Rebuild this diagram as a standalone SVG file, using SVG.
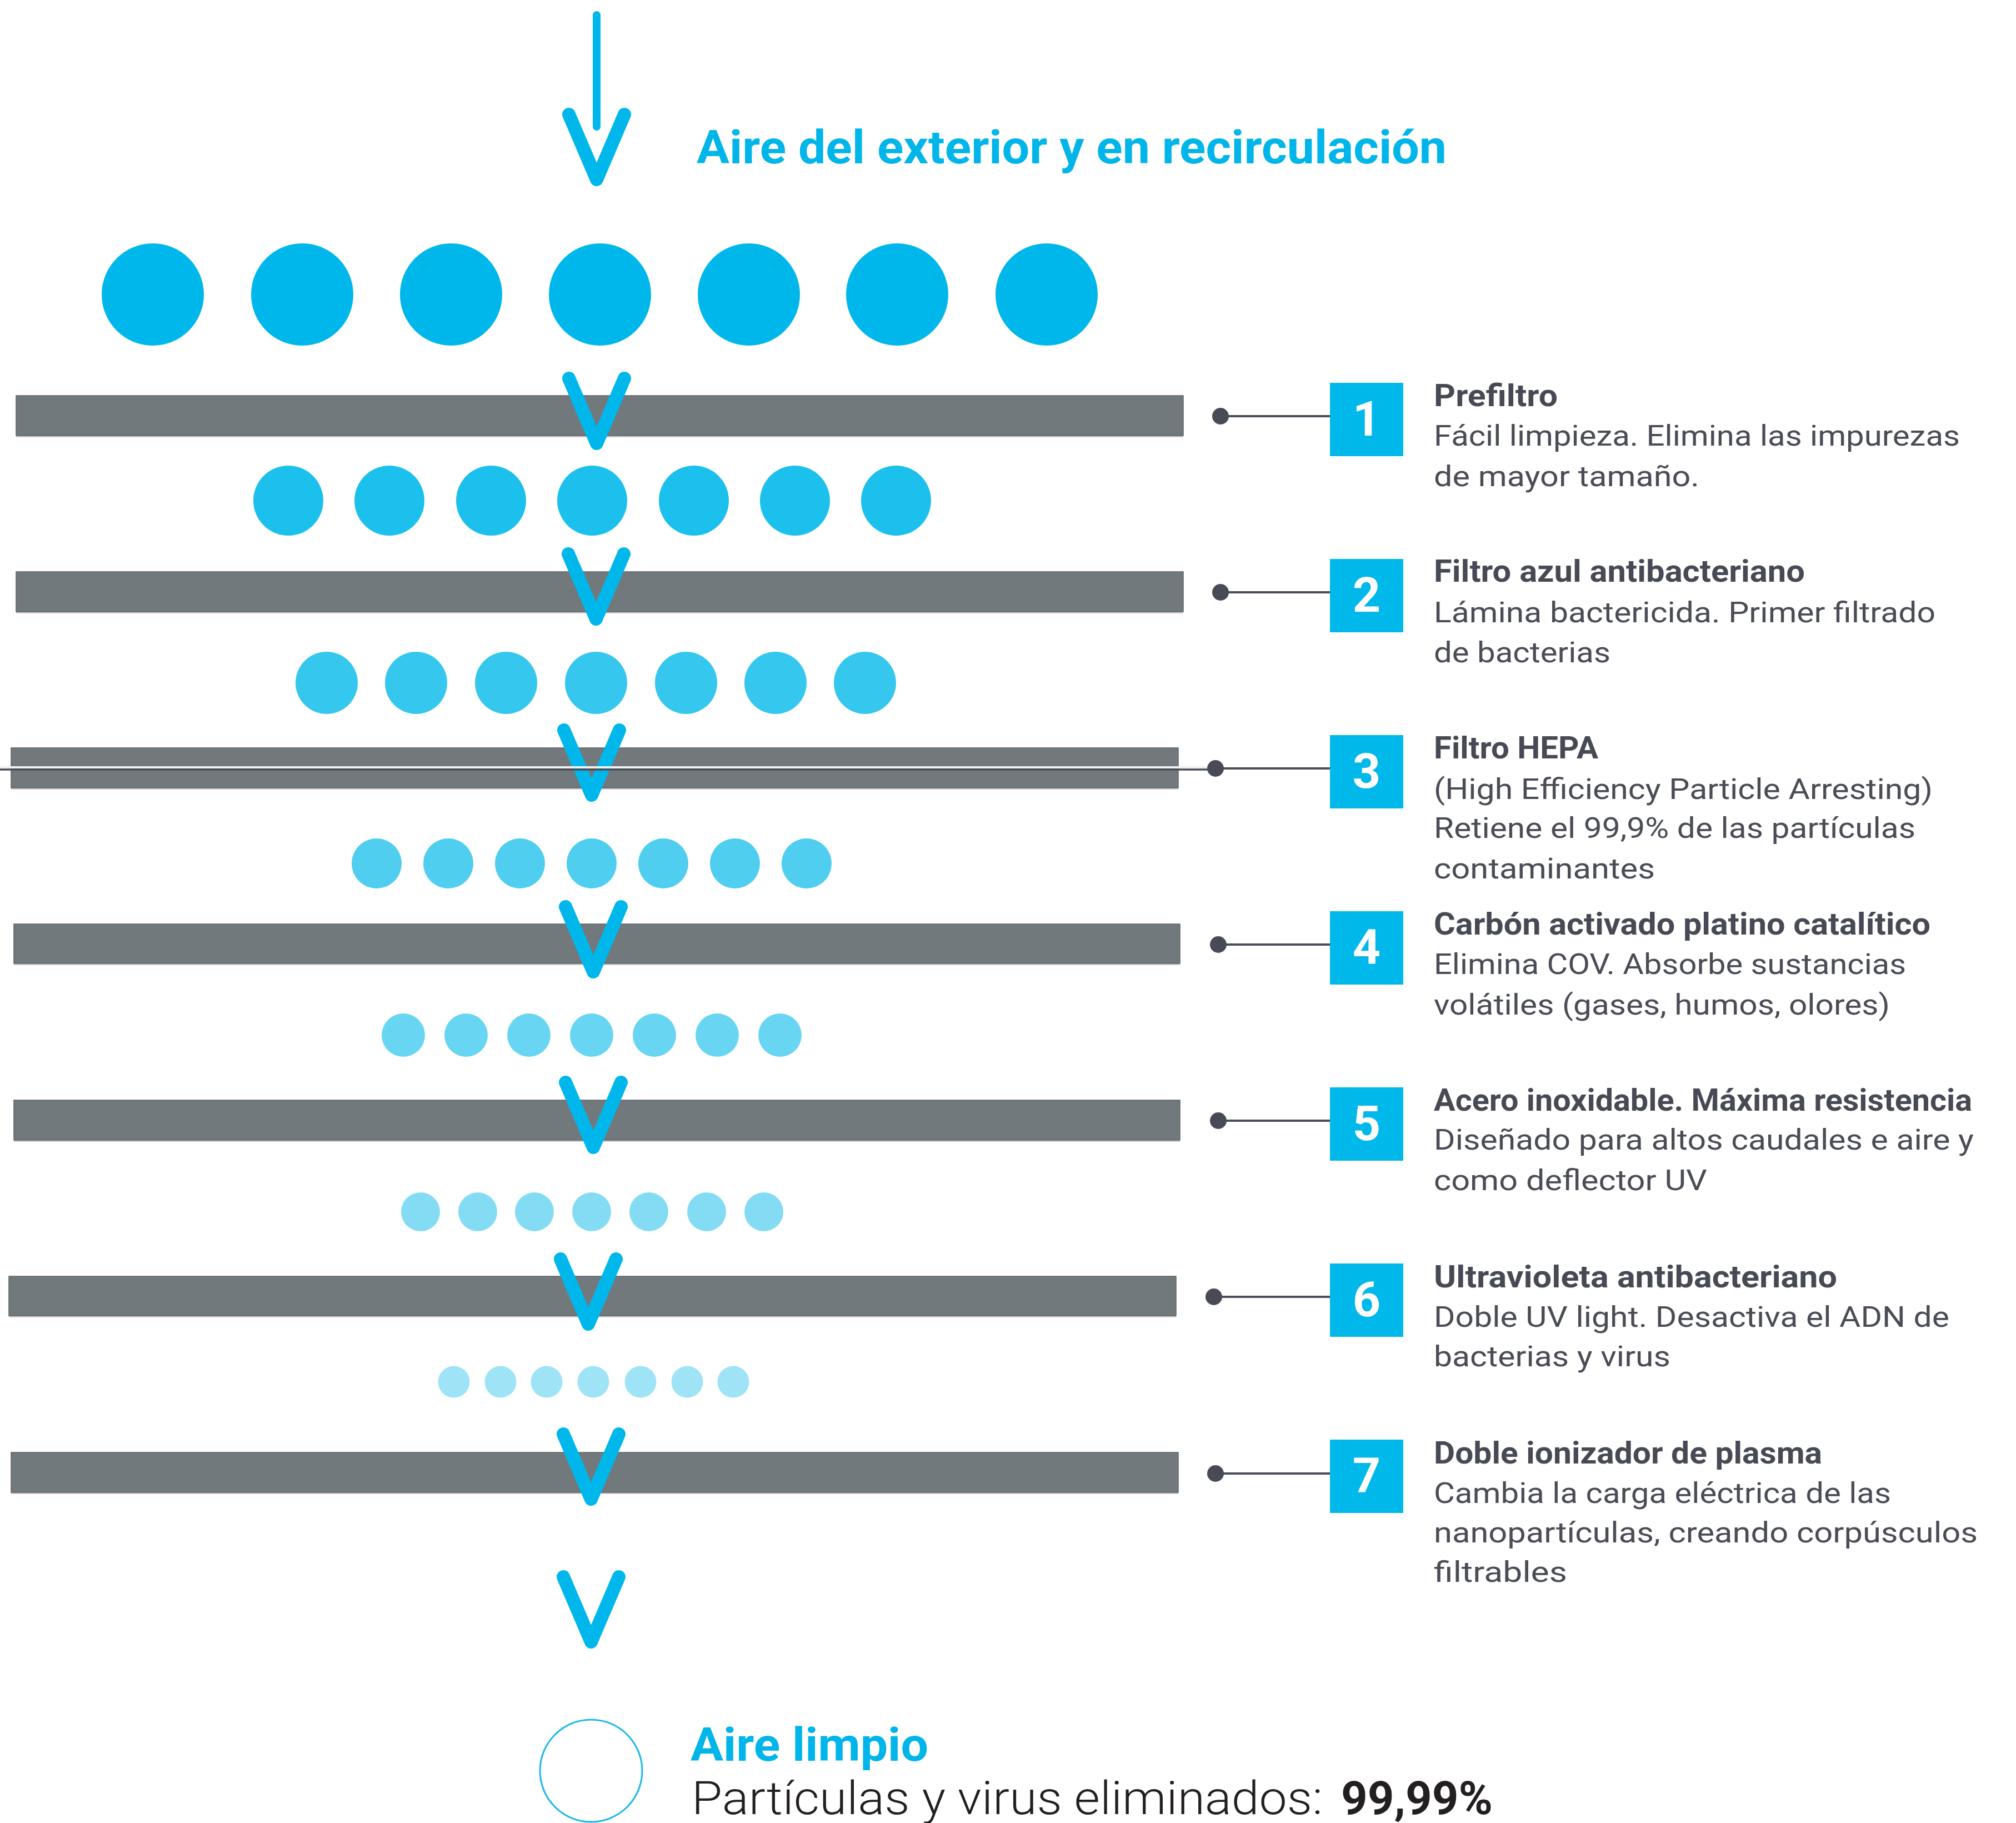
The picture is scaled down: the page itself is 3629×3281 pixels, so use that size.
<svg xmlns="http://www.w3.org/2000/svg" xmlns:xlink="http://www.w3.org/1999/xlink" width="3629" height="3281" viewBox="0 0 3629 3281">
<style>
.bar{fill:#72797c;stroke:#5e6467;stroke-width:1.5}
.barhl{fill:#c8cbce}
.chev{fill:none;stroke:#00b7eb;stroke-width:24;stroke-linecap:round;stroke-linejoin:round}
.r1{fill:#00b7eb}.r2{fill:#1bc0ec}.r3{fill:#35c7ee}.r4{fill:#4fcef0}.r5{fill:#68d5f2}.r6{fill:#83dcf4}.r7{fill:#9ee4f6}
.box{fill:#00b8ea}
.num{font-family:Roboto,'Liberation Sans',sans-serif;font-weight:700;font-size:88px;fill:#ffffff;text-anchor:middle}
.hd{font-family:Roboto,'Liberation Sans',sans-serif;font-weight:700;font-size:55px;fill:#474a54}
.tx{font-family:Roboto,'Liberation Sans',sans-serif;font-weight:400;font-size:52px;fill:#4a4c56}
.dot{fill:#484b55}
.conn{stroke:#4a4d57;stroke-width:4;fill:none}
.title{font-family:Roboto,'Liberation Sans',sans-serif;font-weight:700;font-size:84px;fill:#00b5e9}
.big{font-family:Roboto,'Liberation Sans',sans-serif;font-size:84px;fill:#231f20}
</style>
<defs>
<path id="v" d="M-50,0 L0,117 L50,0"/>
</defs>
<rect width="3629" height="3281" fill="#ffffff"/>

<g id="inflow">
<line x1="1074" y1="27" x2="1074" y2="228" stroke="#00b7eb" stroke-width="14" stroke-linecap="round"/>
<use xlink:href="#v" href="#v" class="chev" x="1074" y="206"/>
<text class="title" x="1254" y="294" textLength="1350" lengthAdjust="spacingAndGlyphs">Aire del exterior y en recirculación</text>
</g>

<g id="particles">
<g class="r1"><circle cx="275" cy="530" r="92"/><circle cx="544" cy="530" r="92"/><circle cx="812" cy="530" r="92"/><circle cx="1080" cy="530" r="92"/><circle cx="1348" cy="530" r="92"/><circle cx="1615" cy="530" r="92"/><circle cx="1884" cy="530" r="92"/></g>
<g class="r2"><circle cx="519" cy="901" r="63"/><circle cx="701" cy="901" r="63"/><circle cx="884" cy="901" r="63"/><circle cx="1066" cy="901" r="63"/><circle cx="1249" cy="901" r="63"/><circle cx="1431" cy="901" r="63"/><circle cx="1613" cy="901" r="63"/></g>
<g class="r3"><circle cx="588" cy="1229" r="56"/><circle cx="749" cy="1229" r="56"/><circle cx="911" cy="1229" r="56"/><circle cx="1073" cy="1229" r="56"/><circle cx="1235" cy="1229" r="56"/><circle cx="1396" cy="1229" r="56"/><circle cx="1557" cy="1229" r="56"/></g>
<g class="r4"><circle cx="678" cy="1554" r="45"/><circle cx="807" cy="1554" r="45"/><circle cx="936" cy="1554" r="45"/><circle cx="1065" cy="1554" r="45"/><circle cx="1194" cy="1554" r="45"/><circle cx="1323" cy="1554" r="45"/><circle cx="1452" cy="1554" r="45"/></g>
<g class="r5"><circle cx="726" cy="1863" r="39"/><circle cx="839" cy="1863" r="39"/><circle cx="952" cy="1863" r="39"/><circle cx="1065" cy="1863" r="39"/><circle cx="1178" cy="1863" r="39"/><circle cx="1291" cy="1863" r="39"/><circle cx="1404" cy="1863" r="39"/></g>
<g class="r6"><circle cx="757" cy="2181" r="35"/><circle cx="860" cy="2181" r="35"/><circle cx="962" cy="2181" r="35"/><circle cx="1065" cy="2181" r="35"/><circle cx="1168" cy="2181" r="35"/><circle cx="1272" cy="2181" r="35"/><circle cx="1375" cy="2181" r="35"/></g>
<g class="r7"><circle cx="817" cy="2487" r="28.5"/><circle cx="901" cy="2487" r="28.5"/><circle cx="984" cy="2487" r="28.5"/><circle cx="1068" cy="2487" r="28.5"/><circle cx="1153" cy="2487" r="28.5"/><circle cx="1237" cy="2487" r="28.5"/><circle cx="1320" cy="2487" r="28.5"/></g>
</g>

<g id="filter1">
<rect class="barhl" x="29" y="784" width="2101" height="3"/>
<rect class="bar" x="29" y="712" width="2101" height="72"/>
<use xlink:href="#v" href="#v" class="chev" x="1074" y="681"/>
<rect class="box" x="2394" y="689" width="132" height="132"/>
<text class="num" x="2460" y="784">1</text>
<text class="hd" x="2581" y="731" textLength="223" lengthAdjust="spacingAndGlyphs">Prefiltro</text>
<text class="tx" x="2581" y="802" textLength="947" lengthAdjust="spacingAndGlyphs">Fácil limpieza. Elimina las impurezas</text>
<text class="tx" x="2581" y="875" textLength="478" lengthAdjust="spacingAndGlyphs">de mayor tamaño.</text>
</g>

<g id="filter2">
<rect class="barhl" x="29" y="1101" width="2101" height="3"/>
<rect class="bar" x="29" y="1029" width="2101" height="72"/>
<use xlink:href="#v" href="#v" class="chev" x="1073" y="997"/>
<rect class="box" x="2394" y="1006" width="132" height="132"/>
<text class="num" x="2460" y="1101">2</text>
<text class="hd" x="2581" y="1047" textLength="668" lengthAdjust="spacingAndGlyphs">Filtro azul antibacteriano</text>
<text class="tx" x="2581" y="1120" textLength="903" lengthAdjust="spacingAndGlyphs">Lámina bactericida. Primer filtrado</text>
<text class="tx" x="2581" y="1192" textLength="318" lengthAdjust="spacingAndGlyphs">de bacterias</text>
</g>

<g id="filter3">
<rect class="barhl" x="20" y="1418" width="2101" height="3"/>
<rect class="bar" x="20" y="1346" width="2101" height="72"/>
<use xlink:href="#v" href="#v" class="chev" x="1065" y="1314"/>
<rect class="box" x="2394" y="1323" width="132" height="132"/>
<text class="num" x="2460" y="1418">3</text>
<text class="hd" x="2581" y="1365" textLength="296" lengthAdjust="spacingAndGlyphs">Filtro HEPA</text>
<text class="tx" x="2581" y="1438" textLength="898" lengthAdjust="spacingAndGlyphs">(High Efficiency Particle Arresting)</text>
<text class="tx" x="2581" y="1508" textLength="867" lengthAdjust="spacingAndGlyphs">Retiene el 99,9% de las partículas</text>
<text class="tx" x="2581" y="1581" textLength="398" lengthAdjust="spacingAndGlyphs">contaminantes</text>
</g>

<g id="filter4">
<rect class="barhl" x="25" y="1734" width="2099" height="3"/>
<rect class="bar" x="25" y="1663" width="2099" height="71"/>
<use xlink:href="#v" href="#v" class="chev" x="1068" y="1632"/>
<rect class="box" x="2394" y="1640" width="132" height="132"/>
<text class="num" x="2460" y="1735">4</text>
<text class="hd" x="2581" y="1682" textLength="894" lengthAdjust="spacingAndGlyphs">Carbón activado platino catalítico</text>
<text class="tx" x="2581" y="1753" textLength="850" lengthAdjust="spacingAndGlyphs">Elimina COV. Absorbe sustancias</text>
<text class="tx" x="2581" y="1826" textLength="821" lengthAdjust="spacingAndGlyphs">volátiles (gases, humos, olores)</text>
</g>

<g id="filter5">
<rect class="barhl" x="25" y="2052" width="2099" height="3"/>
<rect class="bar" x="25" y="1980" width="2099" height="72"/>
<use xlink:href="#v" href="#v" class="chev" x="1068" y="1948"/>
<rect class="box" x="2394" y="1957" width="132" height="132"/>
<text class="num" x="2460" y="2052">5</text>
<text class="hd" x="2581" y="1999" textLength="969" lengthAdjust="spacingAndGlyphs">Acero inoxidable. Máxima resistencia</text>
<text class="tx" x="2581" y="2069" textLength="972" lengthAdjust="spacingAndGlyphs">Diseñado para altos caudales e aire y</text>
<text class="tx" x="2581" y="2142" textLength="492" lengthAdjust="spacingAndGlyphs">como deflector UV</text>
</g>

<g id="filter6">
<rect class="barhl" x="16" y="2368" width="2101" height="3"/>
<rect class="bar" x="16" y="2297" width="2101" height="71"/>
<use xlink:href="#v" href="#v" class="chev" x="1059" y="2266"/>
<rect class="box" x="2394" y="2274" width="132" height="132"/>
<text class="num" x="2460" y="2369">6</text>
<text class="hd" x="2581" y="2317" textLength="726" lengthAdjust="spacingAndGlyphs">Ultravioleta antibacteriano</text>
<text class="tx" x="2581" y="2388" textLength="928" lengthAdjust="spacingAndGlyphs">Doble UV light. Desactiva el ADN de</text>
<text class="tx" x="2581" y="2459" textLength="426" lengthAdjust="spacingAndGlyphs">bacterias y virus</text>
</g>

<g id="filter7">
<rect class="barhl" x="20" y="2686" width="2101" height="3"/>
<rect class="bar" x="20" y="2614" width="2101" height="72"/>
<use xlink:href="#v" href="#v" class="chev" x="1064" y="2581"/>
<rect class="box" x="2394" y="2591" width="132" height="132"/>
<text class="num" x="2460" y="2686">7</text>
<text class="hd" x="2581" y="2634" textLength="699" lengthAdjust="spacingAndGlyphs">Doble ionizador de plasma</text>
<text class="tx" x="2581" y="2705" textLength="823" lengthAdjust="spacingAndGlyphs">Cambia la carga eléctrica de las</text>
<text class="tx" x="2581" y="2776" textLength="979" lengthAdjust="spacingAndGlyphs">nanopartículas, creando corpúsculos</text>
<text class="tx" x="2581" y="2847" textLength="240" lengthAdjust="spacingAndGlyphs">filtrables</text>
</g>

<g id="connectors">
<line class="conn" x1="2197" y1="749" x2="2394" y2="749"/>
<line class="conn" x1="2197" y1="1066" x2="2394" y2="1066"/>
<line x1="0" y1="1381" x2="2188" y2="1381" stroke="#eef0f1" stroke-width="4"/>
<line x1="0" y1="1385" x2="2188" y2="1385" stroke="#4a4d57" stroke-width="3.5"/>
<line class="conn" x1="2188" y1="1383" x2="2394" y2="1383"/>
<line class="conn" x1="2193" y1="1700" x2="2394" y2="1700"/>
<line class="conn" x1="2193" y1="2017" x2="2394" y2="2017"/>
<line class="conn" x1="2185" y1="2334" x2="2394" y2="2334"/>
<line class="conn" x1="2188" y1="2652" x2="2394" y2="2652"/>
<circle class="dot" cx="2197" cy="749" r="15"/>
<circle class="dot" cx="2197" cy="1066" r="15"/>
<circle class="dot" cx="2188" cy="1383" r="15"/>
<circle class="dot" cx="2193" cy="1700" r="15"/>
<circle class="dot" cx="2193" cy="2017" r="15"/>
<circle class="dot" cx="2185" cy="2334" r="15"/>
<circle class="dot" cx="2188" cy="2652" r="15"/>
</g>

<g id="outflow">
<use xlink:href="#v" href="#v" class="chev" x="1064" y="2838"/>
<circle cx="1064" cy="3187" r="92" fill="#ffffff" stroke="#1cb8ea" stroke-width="3"/>
<text class="title" x="1243" y="3169" font-size="85" textLength="428" lengthAdjust="spacingAndGlyphs">Aire limpio</text>
<text class="big" x="1245" y="3265" font-weight="300" textLength="1136" lengthAdjust="spacingAndGlyphs">Partículas y virus eliminados:</text>
<text class="big" x="2414" y="3265" font-weight="700" textLength="273" lengthAdjust="spacingAndGlyphs">99,99%</text>
</g>
</svg>
